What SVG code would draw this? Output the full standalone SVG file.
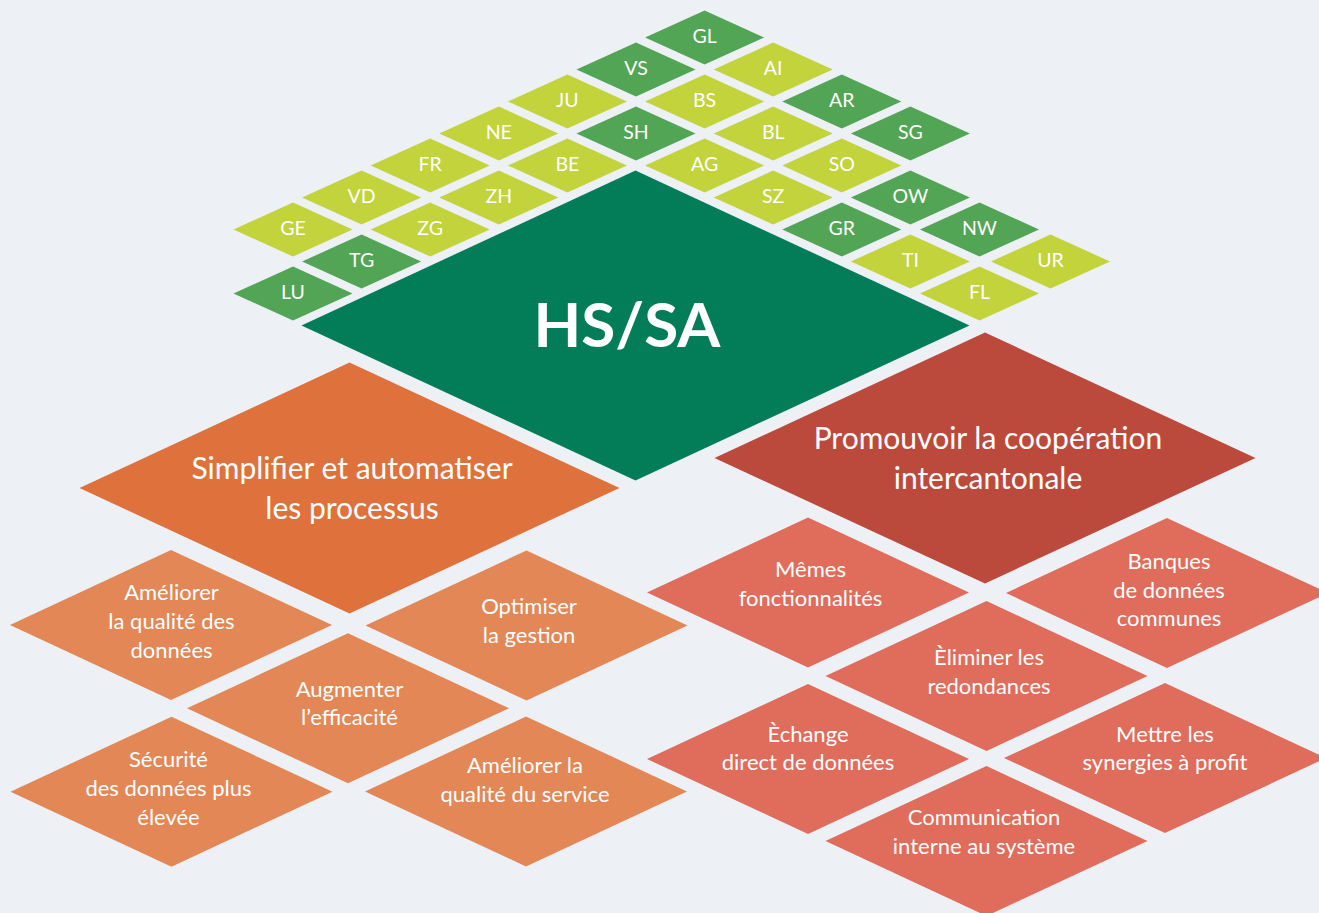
<svg xmlns="http://www.w3.org/2000/svg" width="1319" height="913" viewBox="0 0 1319 913">
<style>
text{font-family:Lato,"Open Sans",sans-serif;fill:#fff;text-anchor:middle}
.c{font-size:19.5px}
.lime{fill:#C2D33B}
.grn{fill:#52A554}
.hs{fill:#037D58}
.ob{fill:#DE713C}
.os{fill:#E28755}
.rb{fill:#BC4A3C}
.rs{fill:#E06C5C}
.big{font-size:30px}
.sm{font-size:22px}
.hst{font-size:62px;font-weight:700}
</style>
<defs>
<polygon id="cell" points="-59.5,0 0,-27 59.5,0 0,27"/>
<polygon id="mid" points="-161,0 0,-75 161,0 0,75"/>
</defs>
<rect width="1319" height="913" fill="#EDF0F5"/>
<g id="connectors"/>
<g id="cantons">
<g id="GE"><use href="#cell" x="293" y="229.5" class="lime"/><text class="c" x="293" y="234.5">GE</text></g>
<g id="VD"><use href="#cell" x="361.6" y="197.5" class="lime"/><text class="c" x="361.6" y="202.5">VD</text></g>
<g id="FR"><use href="#cell" x="430.2" y="165.5" class="lime"/><text class="c" x="430.2" y="170.5">FR</text></g>
<g id="NE"><use href="#cell" x="498.8" y="133.5" class="lime"/><text class="c" x="498.8" y="138.5">NE</text></g>
<g id="JU"><use href="#cell" x="567.4" y="101.5" class="lime"/><text class="c" x="567.4" y="106.5">JU</text></g>
<g id="VS"><use href="#cell" x="636" y="69.5" class="grn"/><text class="c" x="636" y="74.5">VS</text></g>
<g id="GL"><use href="#cell" x="704.6" y="37.5" class="grn"/><text class="c" x="704.6" y="42.5">GL</text></g>
<g id="TG"><use href="#cell" x="361.6" y="261.5" class="grn"/><text class="c" x="361.6" y="266.5">TG</text></g>
<g id="ZG"><use href="#cell" x="430.2" y="229.5" class="lime"/><text class="c" x="430.2" y="234.5">ZG</text></g>
<g id="ZH"><use href="#cell" x="498.8" y="197.5" class="lime"/><text class="c" x="498.8" y="202.5">ZH</text></g>
<g id="BE"><use href="#cell" x="567.4" y="165.5" class="lime"/><text class="c" x="567.4" y="170.5">BE</text></g>
<g id="SH"><use href="#cell" x="636" y="133.5" class="grn"/><text class="c" x="636" y="138.5">SH</text></g>
<g id="BS"><use href="#cell" x="704.6" y="101.5" class="lime"/><text class="c" x="704.6" y="106.5">BS</text></g>
<g id="AI"><use href="#cell" x="773.2" y="69.5" class="lime"/><text class="c" x="773.2" y="74.5">AI</text></g>
<g id="LU"><use href="#cell" x="293" y="293.5" class="grn"/><text class="c" x="293" y="298.5">LU</text></g>
<g id="AG"><use href="#cell" x="704.6" y="165.5" class="lime"/><text class="c" x="704.6" y="170.5">AG</text></g>
<g id="BL"><use href="#cell" x="773.2" y="133.5" class="lime"/><text class="c" x="773.2" y="138.5">BL</text></g>
<g id="AR"><use href="#cell" x="841.8" y="101.5" class="grn"/><text class="c" x="841.8" y="106.5">AR</text></g>
<g id="SZ"><use href="#cell" x="773.2" y="197.5" class="lime"/><text class="c" x="773.2" y="202.5">SZ</text></g>
<g id="SO"><use href="#cell" x="841.8" y="165.5" class="lime"/><text class="c" x="841.8" y="170.5">SO</text></g>
<g id="SG"><use href="#cell" x="910.4" y="133.5" class="grn"/><text class="c" x="910.4" y="138.5">SG</text></g>
<g id="GR"><use href="#cell" x="841.8" y="229.5" class="grn"/><text class="c" x="841.8" y="234.5">GR</text></g>
<g id="OW"><use href="#cell" x="910.4" y="197.5" class="grn"/><text class="c" x="910.4" y="202.5">OW</text></g>
<g id="TI"><use href="#cell" x="910.4" y="261.5" class="lime"/><text class="c" x="910.4" y="266.5">TI</text></g>
<g id="NW"><use href="#cell" x="979.5" y="229.5" class="grn"/><text class="c" x="979.5" y="234.5">NW</text></g>
<g id="FL"><use href="#cell" x="979.5" y="293.5" class="lime"/><text class="c" x="979.5" y="298.5">FL</text></g>
<g id="UR"><use href="#cell" x="1050.5" y="261.5" class="lime"/><text class="c" x="1050.5" y="266.5">UR</text></g>
</g>
<g id="hssa"><polygon class="hs" points="301.5,325.5 635.5,170.5 969.5,325.5 635.5,480.5"/><text class="hst" x="627" y="347">HS/SA</text></g>
<g id="simplifier"><polygon class="ob" points="79.5,488 349.5,362.5 619.5,488 349.5,613.5"/><text class="big" x="352" y="479">Simplifier et automatiser</text><text class="big" x="352" y="519">les processus</text></g>
<g id="promouvoir"><polygon class="rb" points="714.5,458 985,332.5 1255.5,458 985,583.5"/><text class="big" x="988" y="449">Promouvoir la coopération</text><text class="big" x="988" y="489">intercantonale</text></g>
<g id="o1"><use href="#mid" x="171" y="625" class="os"/><text class="sm" x="171.5" y="600">Améliorer</text><text class="sm" x="171.5" y="629">la qualité des</text><text class="sm" x="171.5" y="658">données</text></g>
<g id="o2"><use href="#mid" x="526.5" y="625.5" class="os"/><text class="sm" x="529" y="614">Optimiser</text><text class="sm" x="529" y="643">la gestion</text></g>
<g id="o3"><use href="#mid" x="348" y="708.3" class="os"/><text class="sm" x="349.5" y="697">Augmenter</text><text class="sm" x="349.5" y="725">l’efficacité</text></g>
<g id="o4"><use href="#mid" x="171.5" y="791.7" class="os"/><text class="sm" x="168.5" y="767">Sécurité</text><text class="sm" x="168.5" y="796">des données plus</text><text class="sm" x="168.5" y="825">élevée</text></g>
<g id="o5"><use href="#mid" x="526" y="791.5" class="os"/><text class="sm" x="525" y="773">Améliorer la</text><text class="sm" x="525" y="802">qualité du service</text></g>
<g id="r1"><use href="#mid" x="808" y="592.5" class="rs"/><text class="sm" x="810.5" y="577">Mêmes</text><text class="sm" x="810.5" y="606">fonctionnalités</text></g>
<g id="r2"><use href="#mid" x="1167" y="593" class="rs"/><text class="sm" x="1169" y="569">Banques</text><text class="sm" x="1169" y="597.5">de données</text><text class="sm" x="1169" y="626">communes</text></g>
<g id="r3"><use href="#mid" x="986.5" y="676" class="rs"/><text class="sm" x="989" y="665">Èliminer les</text><text class="sm" x="989" y="693.5">redondances</text></g>
<g id="r4"><use href="#mid" x="808" y="759" class="rs"/><text class="sm" x="808" y="742">Èchange</text><text class="sm" x="808" y="770">direct de données</text></g>
<g id="r5"><use href="#mid" x="1165" y="758" class="rs"/><text class="sm" x="1165" y="742">Mettre les</text><text class="sm" x="1165" y="770">synergies à profit</text></g>
<g id="r6"><use href="#mid" x="986.5" y="841" class="rs"/><text class="sm" x="984" y="825">Communication</text><text class="sm" x="984" y="853.5">interne au système</text></g>
</svg>
